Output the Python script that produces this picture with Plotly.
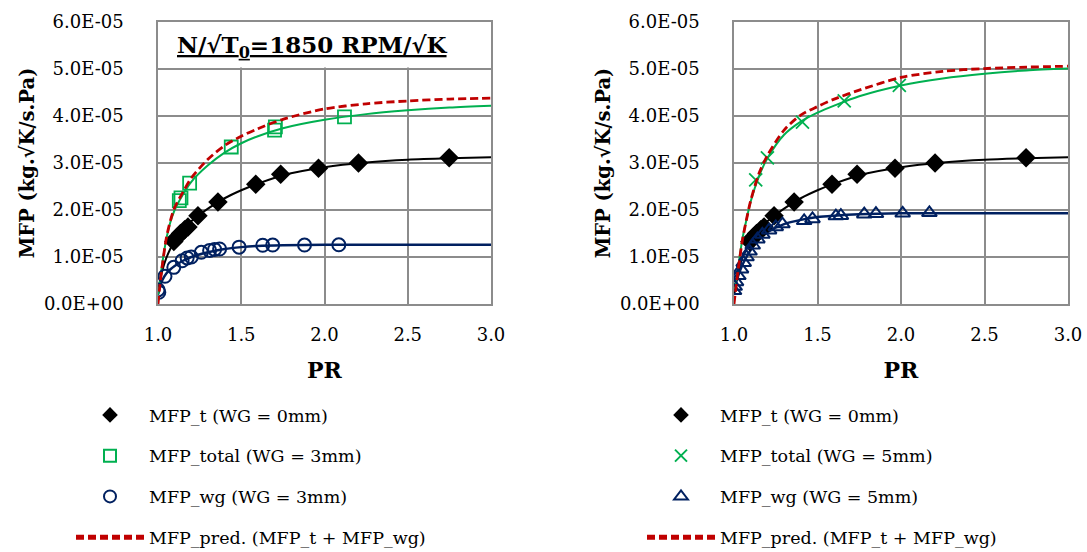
import numpy as np
import plotly.graph_objects as go

SCALE = 1e-5  # all MFP values below are in units of 1e-5 kg.sqrt(K)/(s.Pa)

# ---------------- shared: turbine-only data (WG = 0 mm) ----------------
pr_t = [1.095, 1.115, 1.135, 1.16, 1.18, 1.24, 1.36, 1.587, 1.737, 1.964, 2.204, 2.749]
mfp_t = [1.33, 1.42, 1.50, 1.58, 1.64, 1.88, 2.17, 2.55, 2.76, 2.89, 3.00, 3.11]

# fitted curves are sampled at these PR values
pr_fit = [1.0, 1.01, 1.025, 1.05, 1.075, 1.1, 1.15, 1.2, 1.3, 1.4, 1.5, 1.6, 1.75, 2.0, 2.25, 2.5, 2.75, 3.0]
fit_t = [0.2, 0.45, 0.7, 0.98, 1.18, 1.35, 1.58, 1.76, 2.03, 2.25, 2.42, 2.56, 2.74, 2.91, 3.01, 3.07, 3.10, 3.12]

# ---------------- left chart: WG = 3 mm ----------------
pr_total3 = [1.128, 1.138, 1.19, 1.44, 1.70, 1.705, 2.12]
mfp_total3 = [2.20, 2.26, 2.57, 3.34, 3.70, 3.77, 3.98]
pr_wg3 = [1.0, 1.005, 1.042, 1.095, 1.145, 1.175, 1.2, 1.26, 1.31, 1.34, 1.37, 1.487, 1.629, 1.689, 1.88, 2.086]
mfp_wg3 = [0.30, 0.25, 0.59, 0.78, 0.92, 0.98, 1.0, 1.1, 1.14, 1.16, 1.17, 1.21, 1.25, 1.255, 1.255, 1.26]
fit_total3 = [0.2, 0.45, 0.85, 1.38, 1.75, 2.0, 2.33, 2.6, 2.95, 3.22, 3.42, 3.57, 3.74, 3.92, 4.04, 4.12, 4.18, 4.22]
fit_wg3 = [0.2, 0.35, 0.5, 0.65, 0.74, 0.81, 0.92, 1.0, 1.1, 1.17, 1.21, 1.235, 1.25, 1.26, 1.26, 1.26, 1.26, 1.26]
fit_pred3 = [0.0, 0.35, 0.8, 1.4, 1.78, 2.05, 2.38, 2.68, 3.08, 3.37, 3.57, 3.73, 3.93, 4.15, 4.26, 4.32, 4.36, 4.38]

# ---------------- right chart: WG = 5 mm ----------------
pr_total5 = [1.13, 1.2, 1.41, 1.66, 1.99]
mfp_total5 = [2.64, 3.11, 3.87, 4.32, 4.65]
pr_wg5 = [1.0, 1.004, 1.012, 1.026, 1.042, 1.058, 1.075, 1.093, 1.112, 1.14, 1.17, 1.21, 1.25, 1.29,
          1.42, 1.47, 1.61, 1.64, 1.78, 1.85, 2.01, 2.17]
mfp_wg5 = [0.28, 0.37, 0.47, 0.60, 0.74, 0.88, 1.0, 1.12, 1.25, 1.38, 1.48, 1.57, 1.64, 1.70,
           1.77, 1.81, 1.87, 1.88, 1.91, 1.92, 1.93, 1.94]
fit_total5 = [0.3, 0.45, 0.78, 1.38, 1.8, 2.18, 2.72, 3.1, 3.6, 3.88, 4.07, 4.22, 4.42, 4.65, 4.8, 4.9, 4.97, 5.01]
fit_wg5 = [0.2, 0.42, 0.6, 0.83, 1.0, 1.15, 1.38, 1.53, 1.70, 1.79, 1.85, 1.88, 1.91, 1.93, 1.93, 1.93, 1.93, 1.93]
fit_pred5 = [0.0, 0.3, 0.73, 1.35, 1.8, 2.2, 2.78, 3.16, 3.7, 4.02, 4.2, 4.36, 4.55, 4.82, 4.95, 5.01, 5.04, 5.06]

y_tickvals = [0, 1, 2, 3, 4, 5, 6]
y_ticktext = ["0.0E+00", "1.0E-05", "2.0E-05", "3.0E-05", "4.0E-05", "5.0E-05", "6.0E-05"]
x_tickvals = [1.0, 1.5, 2.0, 2.5, 3.0]
x_ticktext = ["1.0", "1.5", "2.0", "2.5", "3.0"]

BLACK = "#000000"
GREEN = "#00B050"
NAVY = "#002060"
RED = "#C00000"
GRID = "#8C8C8C"
FONT = "DejaVu Serif"
DASH = "8px,4px"


def s(vals):
    return np.array(vals) * SCALE


fig = go.Figure()


def add_panel(xa, ya, leg, pr_tot, mfp_tot, tot_sym, tot_name, fit_tot,
              pr_wg, mfp_wg, wg_sym, wg_name, fit_wg, fit_pred):
    common = dict(xaxis=xa, yaxis=ya, legend=leg)
    # fitted lines (not in legend)
    fig.add_trace(go.Scatter(x=pr_fit, y=s(fit_wg), mode="lines", line=dict(color=NAVY, width=2.5, shape="spline", smoothing=0.8),
                             showlegend=False, hoverinfo="skip", **common))
    fig.add_trace(go.Scatter(x=pr_fit, y=s(fit_t), mode="lines", line=dict(color=BLACK, width=2, shape="spline", smoothing=0.8),
                             showlegend=False, hoverinfo="skip", **common))
    fig.add_trace(go.Scatter(x=pr_fit, y=s(fit_tot), mode="lines", line=dict(color=GREEN, width=2, shape="spline", smoothing=0.8),
                             showlegend=False, hoverinfo="skip", **common))
    # measured points
    fig.add_trace(go.Scatter(x=pr_t, y=s(mfp_t), mode="markers", name="MFP_t (WG = 0mm)",
                             marker=dict(symbol="diamond", size=15, color=BLACK),
                             legendgroup=leg + "a", legendrank=1, **common))
    if tot_sym == "square-open":
        mk = dict(symbol="square-open", size=13, color=GREEN, line=dict(width=1.8, color=GREEN))
    else:
        mk = dict(symbol="x-thin-open", size=13, color=GREEN, line=dict(width=1.8, color=GREEN))
    fig.add_trace(go.Scatter(x=pr_tot, y=s(mfp_tot), mode="markers", name=tot_name, marker=mk,
                             legendgroup=leg + "b", legendrank=2, **common))
    if wg_sym == "circle-open":
        mk2 = dict(symbol="circle-open", size=13, color=NAVY, line=dict(width=2, color=NAVY))
    else:
        mk2 = dict(symbol="triangle-up-open", size=13, color=NAVY, line=dict(width=2, color=NAVY))
    fig.add_trace(go.Scatter(x=pr_wg, y=s(mfp_wg), mode="markers", name=wg_name, marker=mk2,
                             legendgroup=leg + "c", legendrank=3, **common))
    # prediction (dashed)
    fig.add_trace(go.Scatter(x=pr_fit, y=s(fit_pred), mode="lines", name="MFP_pred. (MFP_t + MFP_wg)",
                             line=dict(color=RED, width=2.8, dash=DASH, shape="spline", smoothing=0.8),
                             legendgroup=leg + "d", legendrank=4, **common))


add_panel("x", "y", "legend", pr_total3, mfp_total3, "square-open", "MFP_total (WG = 3mm)", fit_total3,
          pr_wg3, mfp_wg3, "circle-open", "MFP_wg (WG = 3mm)", fit_wg3, fit_pred3)
add_panel("x2", "y2", "legend2", pr_total5, mfp_total5, "x", "MFP_total (WG = 5mm)", fit_total5,
          pr_wg5, mfp_wg5, "triangle", "MFP_wg (WG = 5mm)", fit_wg5, fit_pred5)

W, H = 1087, 552
top, bottom = 22, 304
yd = [1 - bottom / H, 1 - top / H]

xax = dict(range=[1.0, 3.0], tickvals=x_tickvals, ticktext=x_ticktext, showgrid=True, gridcolor=GRID, gridwidth=1.5,
           showline=True, linecolor=GRID, linewidth=1.5, mirror=True, zeroline=False, ticks="", automargin=False,
           tickfont=dict(family=FONT, size=18, color="black"), ticklabelstandoff=14,
           title=dict(text="<b>PR</b>", font=dict(family=FONT, size=22, color="black"), standoff=18))
yax = dict(range=[0, 6e-5], tickvals=s(y_tickvals), ticktext=y_ticktext, showgrid=True, gridcolor=GRID, gridwidth=1.5,
           showline=True, linecolor=GRID, linewidth=1.5, mirror=True, zeroline=False, ticks="", automargin=False,
           tickfont=dict(family=FONT, size=18, color="black"), ticklabelstandoff=29,
           title=dict(text="<b>MFP (kg.√K/s.Pa)</b>", font=dict(family=FONT, size=19.5, color="black"), standoff=4))

fig.update_layout(
    width=W, height=H, autosize=False,
    margin=dict(l=0, r=0, t=0, b=0, autoexpand=False),
    paper_bgcolor="white", plot_bgcolor="white",
    font=dict(family=FONT, color="black"),
    xaxis=dict(domain=[158 / W, 491 / W], anchor="y", **xax),
    yaxis=dict(domain=yd, anchor="x", **yax),
    xaxis2=dict(domain=[734 / W, 1068 / W], anchor="y2", **xax),
    yaxis2=dict(domain=yd, anchor="x2", **yax),
    legend=dict(x=71 / W, y=1 - 397 / H, xanchor="left", yanchor="top", font=dict(family=FONT, size=17.5),
                itemwidth=68, itemsizing="constant", tracegroupgap=15, traceorder="grouped",
                bgcolor="rgba(0,0,0,0)"),
    legend2=dict(x=642 / W, y=1 - 397 / H, xanchor="left", yanchor="top", font=dict(family=FONT, size=17.5),
                 itemwidth=68, itemsizing="constant", tracegroupgap=15, traceorder="grouped",
                 bgcolor="rgba(0,0,0,0)"),
    shapes=[dict(type="rect", xref="x", yref="y", x0=1.0, x1=3.0, y0=5.03e-5, y1=6e-5,
                 fillcolor="white", line=dict(width=0), layer="between")],
    annotations=[dict(text="<b><u>N/√T<sub>0</sub>=1850 RPM/√K</u></b>", xref="paper", yref="paper",
                      x=312 / W, y=1 - 46 / H, xanchor="center", yanchor="middle", showarrow=False,
                      font=dict(family=FONT, size=23, color="black"))],
)

fig.write_html("out.html")
